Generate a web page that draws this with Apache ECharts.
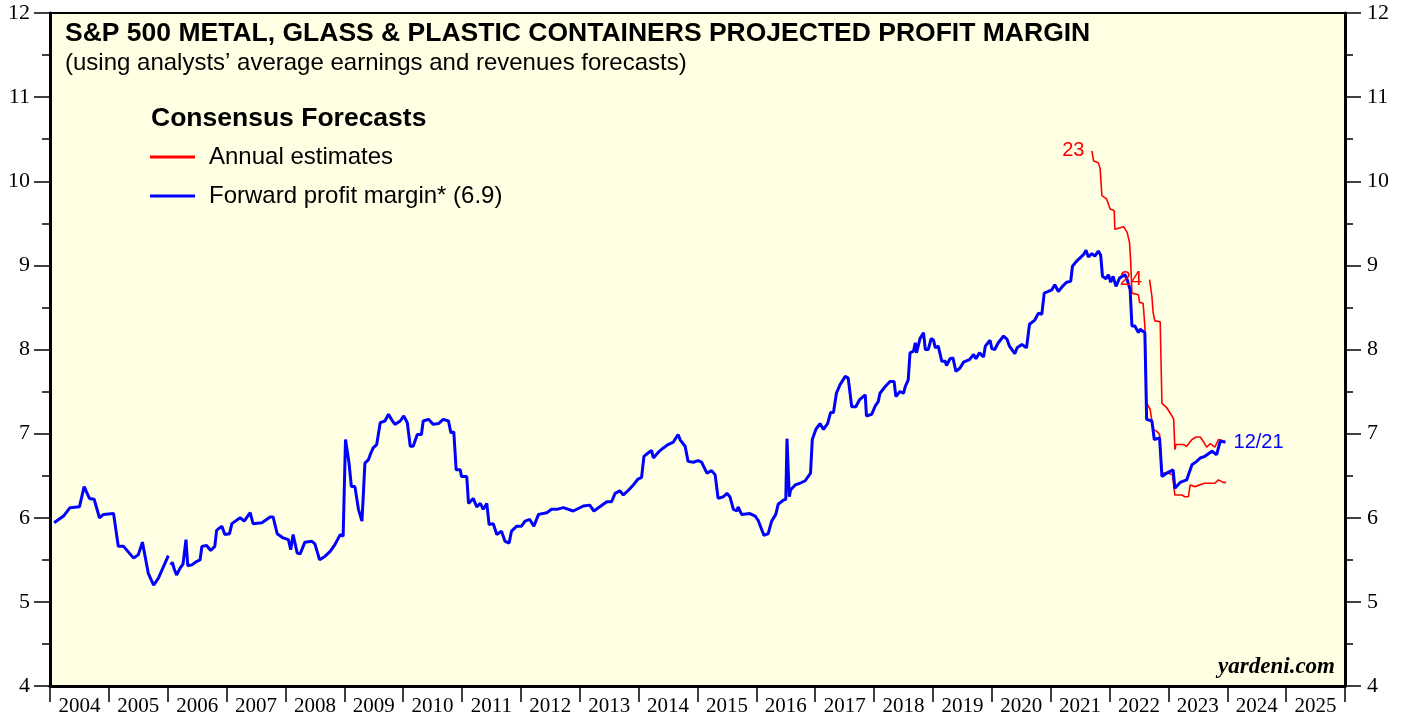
<!DOCTYPE html>
<html>
<head>
<meta charset="utf-8">
<script src="https://cdn.jsdelivr.net/npm/echarts@6/dist/echarts.min.js"></script>
<style>
  html, body { margin: 0; padding: 0; background: #fff; }
  #chart { width: 1405px; height: 717px; }
</style>
</head>
<body>
<div id="chart"></div>
<script>
// x positions are decimal years, values are profit margin in percent
const yearLabels = ["2004", "2005", "2006", "2007", "2008", "2009", "2010", "2011", "2012", "2013", "2014",
    "2015", "2016", "2017", "2018", "2019", "2020", "2021", "2022", "2023", "2024", "2025"];

const fwdDates = [
    2004.07, 2004.23, 2004.34, 2004.50, 2004.58, 2004.67, 2004.75, 2004.84, 2004.91, 2005.08,
    2005.16, 2005.25, 2005.42, 2005.50, 2005.57, 2005.67, 2005.76, 2005.84, 2006.01, 2006.03,
    2006.05, 2006.08, 2006.11, 2006.15, 2006.21, 2006.26, 2006.29, 2006.31, 2006.34, 2006.41,
    2006.49, 2006.55, 2006.58, 2006.66, 2006.73, 2006.80, 2006.83, 2006.92, 2006.97, 2007.05,
    2007.09, 2007.23, 2007.30, 2007.40, 2007.45, 2007.60, 2007.74, 2007.79, 2007.86, 2007.96,
    2008.05, 2008.09, 2008.13, 2008.20, 2008.25, 2008.33, 2008.45, 2008.50, 2008.58, 2008.67,
    2008.76, 2008.84, 2008.93, 2008.98, 2009.00, 2009.02, 2009.08, 2009.12, 2009.18, 2009.24,
    2009.30, 2009.35, 2009.41, 2009.44, 2009.49, 2009.55, 2009.61, 2009.69, 2009.75, 2009.80,
    2009.86, 2009.95, 2010.01, 2010.07, 2010.12, 2010.17, 2010.24, 2010.31, 2010.34, 2010.43,
    2010.51, 2010.60, 2010.68, 2010.77, 2010.81, 2010.86, 2010.90, 2010.97, 2010.99, 2011.08,
    2011.11, 2011.19, 2011.25, 2011.31, 2011.36, 2011.42, 2011.46, 2011.53, 2011.59, 2011.67,
    2011.73, 2011.80, 2011.84, 2011.93, 2012.01, 2012.07, 2012.15, 2012.22, 2012.30, 2012.44,
    2012.52, 2012.61, 2012.72, 2012.89, 2013.06, 2013.17, 2013.24, 2013.34, 2013.46, 2013.54,
    2013.60, 2013.68, 2013.74, 2013.83, 2013.91, 2013.99, 2014.05, 2014.09, 2014.16, 2014.22,
    2014.25, 2014.35, 2014.42, 2014.50, 2014.59, 2014.67, 2014.71, 2014.79, 2014.84, 2014.93,
    2015.01, 2015.07, 2015.16, 2015.24, 2015.30, 2015.35, 2015.44, 2015.50, 2015.55, 2015.61,
    2015.67, 2015.69, 2015.75, 2015.89, 2015.98, 2016.03, 2016.09, 2016.13, 2016.20, 2016.26,
    2016.33, 2016.37, 2016.46, 2016.50, 2016.52, 2016.56, 2016.58, 2016.66, 2016.74, 2016.83,
    2016.92, 2016.95, 2017.01, 2017.08, 2017.14, 2017.21, 2017.26, 2017.31, 2017.36, 2017.42,
    2017.51, 2017.56, 2017.62, 2017.69, 2017.75, 2017.85, 2017.87, 2017.96, 2018.02, 2018.07,
    2018.10, 2018.19, 2018.27, 2018.34, 2018.37, 2018.44, 2018.50, 2018.53, 2018.58, 2018.61,
    2018.67, 2018.70, 2018.72, 2018.78, 2018.84, 2018.87, 2018.92, 2018.97, 2019.01, 2019.04,
    2019.09, 2019.15, 2019.21, 2019.23, 2019.29, 2019.34, 2019.39, 2019.46, 2019.52, 2019.62,
    2019.69, 2019.73, 2019.79, 2019.86, 2019.89, 2019.97, 2020.00, 2020.05, 2020.11, 2020.20,
    2020.26, 2020.30, 2020.39, 2020.43, 2020.51, 2020.59, 2020.64, 2020.73, 2020.79, 2020.85,
    2020.89, 2020.96, 2021.02, 2021.07, 2021.13, 2021.20, 2021.27, 2021.34, 2021.37, 2021.44,
    2021.50, 2021.56, 2021.60, 2021.64, 2021.70, 2021.75, 2021.81, 2021.85, 2021.88, 2021.94,
    2021.98, 2022.02, 2022.06, 2022.11, 2022.17, 2022.26, 2022.30, 2022.35, 2022.38, 2022.43,
    2022.49, 2022.52, 2022.60, 2022.63, 2022.72, 2022.76, 2022.85, 2022.89, 2022.97, 2023.08,
    2023.11, 2023.20, 2023.31, 2023.40, 2023.48, 2023.54, 2023.62, 2023.74, 2023.82, 2023.88,
    2023.97
];
const fwdMargin = [
    5.94, 6.02, 6.12, 6.13, 6.37, 6.23, 6.22, 6.00, 6.04, 6.05,
    5.66, 5.66, 5.52, 5.56, 5.71, 5.34, 5.20, 5.28, 5.55, null,
    5.44, 5.47, 5.39, 5.32, 5.40, 5.45, 5.44, 5.74, 5.43, 5.44,
    5.48, 5.50, 5.66, 5.67, 5.61, 5.66, 5.85, 5.90, 5.80, 5.81,
    5.93, 6.00, 5.96, 6.06, 5.93, 5.94, 6.01, 6.01, 5.81, 5.76,
    5.74, 5.62, 5.80, 5.58, 5.57, 5.71, 5.72, 5.69, 5.50, 5.54,
    5.60, 5.68, 5.80, 5.78, 5.80, 6.93, 6.65, 6.37, 6.37, 6.10,
    5.96, 6.65, 6.69, 6.75, 6.83, 6.87, 7.13, 7.15, 7.23, 7.17,
    7.11, 7.15, 7.21, 7.13, 6.85, 6.85, 6.99, 6.99, 7.15, 7.17,
    7.11, 7.12, 7.17, 7.15, 7.01, 7.02, 6.57, 6.57, 6.49, 6.49,
    6.17, 6.23, 6.13, 6.17, 6.10, 6.17, 5.92, 5.93, 5.80, 5.84,
    5.72, 5.70, 5.84, 5.90, 5.90, 5.96, 5.98, 5.90, 6.04, 6.06,
    6.10, 6.10, 6.12, 6.08, 6.14, 6.15, 6.08, 6.13, 6.19, 6.19,
    6.29, 6.32, 6.27, 6.33, 6.39, 6.46, 6.48, 6.73, 6.77, 6.80,
    6.71, 6.79, 6.83, 6.87, 6.90, 6.99, 6.92, 6.85, 6.67, 6.66,
    6.68, 6.66, 6.53, 6.56, 6.51, 6.23, 6.25, 6.29, 6.25, 6.10,
    6.08, 6.13, 6.04, 6.05, 6.02, 5.97, 5.86, 5.79, 5.81, 5.96,
    6.04, 6.16, 6.21, 6.22, 6.94, 6.25, 6.33, 6.39, 6.41, 6.44,
    6.53, 6.93, 7.05, 7.12, 7.05, 7.12, 7.25, 7.25, 7.48, 7.58,
    7.68, 7.66, 7.32, 7.32, 7.40, 7.46, 7.21, 7.23, 7.33, 7.38,
    7.48, 7.56, 7.62, 7.62, 7.44, 7.50, 7.48, 7.56, 7.64, 7.96,
    7.98, 8.08, 7.96, 8.13, 8.20, 8.00, 8.00, 8.13, 8.11, 8.02,
    8.04, 7.86, 7.86, 7.81, 7.89, 7.90, 7.74, 7.78, 7.85, 7.88,
    7.94, 7.89, 7.96, 7.91, 8.04, 8.11, 8.01, 8.00, 8.08, 8.16,
    8.12, 8.04, 7.95, 8.02, 8.06, 8.02, 8.30, 8.35, 8.43, 8.42,
    8.67, 8.69, 8.71, 8.77, 8.69, 8.75, 8.80, 8.81, 8.99, 9.05,
    9.09, 9.13, 9.18, 9.10, 9.14, 9.11, 9.17, 9.12, 8.87, 8.84,
    8.89, 8.80, 8.87, 8.75, 8.85, 8.89, 8.83, 8.71, 8.28, 8.28,
    8.20, 8.24, 8.20, 7.17, 7.15, 6.93, 6.95, 6.49, 6.53, 6.57,
    6.35, 6.42, 6.45, 6.63, 6.67, 6.71, 6.73, 6.79, 6.75, 6.91,
    6.90
];

const est23Dates = [
    2021.70, 2021.73, 2021.81, 2021.84, 2021.87, 2021.95, 2022.01, 2022.08, 2022.09, 2022.24,
    2022.30, 2022.34, 2022.36, 2022.38, 2022.49, 2022.51, 2022.57, 2022.60, 2022.63, 2022.69,
    2022.74, 2022.80, 2022.85, 2022.89, 2023.00, 2023.07, 2023.11, 2023.23, 2023.28, 2023.34,
    2023.37, 2023.45, 2023.61, 2023.79, 2023.85, 2023.88, 2023.93, 2023.98
];
const est23Values = [
    10.36, 10.24, 10.22, 10.15, 9.83, 9.79, 9.67, 9.65, 9.43, 9.46,
    9.39, 9.27, 9.03, 8.67, 8.65, 8.56, 8.55, 8.28, 7.36, 7.29,
    7.05, 7.03, 6.99, 6.53, 6.53, 6.51, 6.27, 6.27, 6.25, 6.25,
    6.39, 6.37, 6.41, 6.41, 6.45, 6.46, 6.42, 6.42
];

const est24Dates = [
    2022.68, 2022.72, 2022.74, 2022.77, 2022.86, 2022.89, 2022.97, 2023.00, 2023.06, 2023.09,
    2023.11, 2023.13, 2023.25, 2023.31, 2023.40, 2023.47, 2023.54, 2023.59, 2023.65, 2023.71,
    2023.79, 2023.85, 2023.91, 2023.96
];
const est24Values = [
    8.83, 8.63, 8.44, 8.34, 8.33, 7.36, 7.31, 7.29, 7.21, 7.17,
    6.81, 6.87, 6.87, 6.85, 6.93, 6.96, 6.96, 6.91, 6.84, 6.88,
    6.84, 6.93, 6.92, 6.89
];

const sans = "Liberation Sans";
const serif = "Liberation Serif";

const pairs = (xs, ys) => xs.map((x, i) => [x, ys[i]]);

// year tag written to the left of the first point of an estimate line
const startTag = (xs, ys, text) => ({
    silent: true,
    symbol: "circle",
    symbolSize: 1,
    itemStyle: {color: "rgba(0,0,0,0)"},
    label: {show: true, position: "left", distance: 7, formatter: text,
        color: "#ff0000", fontFamily: sans, fontSize: 20},
    data: [{coord: [xs[0], ys[0]]}]
});

const myChart = echarts.init(document.getElementById("chart"));

const yAxisBase = {
    type: "value",
    min: 4,
    max: 12,
    interval: 1,
    axisLine: {show: true, lineStyle: {color: "#000", width: 3}},
    axisTick: {show: true, length: 16, lineStyle: {color: "#000", width: 1.5}},
    minorTick: {show: true, splitNumber: 2, length: 8, lineStyle: {color: "#000", width: 1.5}},
    splitLine: {show: false},
    axisLabel: {color: "#000", fontFamily: serif, fontSize: 22}
};

const option = {
    backgroundColor: "#fff",
    animation: false,
    title: [{
        text: "S&P 500 METAL, GLASS & PLASTIC CONTAINERS PROJECTED PROFIT MARGIN",
        left: 65, top: 20, padding: 0,
        textStyle: {fontFamily: sans, fontSize: 26.5, fontWeight: "bold", color: "#000"}
    }, {
        text: "(using analysts\u2019 average earnings and revenues forecasts)",
        left: 65, top: 51, padding: 0,
        textStyle: {fontFamily: sans, fontSize: 24, fontWeight: "normal", color: "#000"}
    }, {
        text: "Consensus Forecasts",
        left: 151, top: 105, padding: 0,
        textStyle: {fontFamily: sans, fontSize: 26.5, fontWeight: "bold", color: "#000"}
    }, {
        text: "yardeni.com",
        right: 70, top: 656, padding: 0,
        textStyle: {fontFamily: serif, fontSize: 23, fontWeight: "bold", fontStyle: "italic", color: "#000"}
    }],
    legend: {
        orient: "vertical",
        left: 150,
        top: 145,
        padding: 0,
        itemWidth: 45,
        itemHeight: 3,
        itemGap: 15,
        data: [
            {name: "Annual estimates", icon: "rect"},
            {name: "Forward profit margin* (6.9)", icon: "rect"}
        ],
        textStyle: {fontFamily: sans, fontSize: 24, color: "#000", padding: [0, 0, 0, 9]}
    },
    grid: {
        left: 50,
        right: 60,
        top: 13,
        bottom: 31,
        show: true,
        backgroundColor: "#ffffe3",
        borderColor: "#000",
        borderWidth: 2
    },
    xAxis: [{
        type: "value",
        min: 2004,
        max: 2026,
        show: false
    }, {
        type: "category",
        data: yearLabels,
        position: "bottom",
        boundaryGap: true,
        axisLine: {show: true, lineStyle: {color: "#000", width: 3}},
        axisTick: {show: true, interval: 0, length: 16, lineStyle: {color: "#000", width: 1.5}},
        axisLabel: {interval: 0, color: "#000", fontFamily: serif, fontSize: 21, margin: 10},
        splitLine: {show: false}
    }],
    yAxis: [
        Object.assign({}, yAxisBase, {position: "left", axisLabel: Object.assign({}, yAxisBase.axisLabel, {margin: 20})}),
        Object.assign({}, yAxisBase, {position: "right", axisLabel: Object.assign({}, yAxisBase.axisLabel, {margin: 22})})
    ],
    series: [{
        name: "Annual estimates",
        type: "line",
        xAxisIndex: 0,
        yAxisIndex: 0,
        showSymbol: false,
        symbol: "none",
        color: "#ff0000",
        lineStyle: {color: "#ff0000", width: 1.6},
        data: pairs(est23Dates, est23Values),
        markPoint: startTag(est23Dates, est23Values, "23"),
        z: 2
    }, {
        name: "Annual estimates",
        type: "line",
        xAxisIndex: 0,
        yAxisIndex: 0,
        showSymbol: false,
        symbol: "none",
        color: "#ff0000",
        lineStyle: {color: "#ff0000", width: 1.6},
        data: pairs(est24Dates, est24Values),
        markPoint: startTag(est24Dates, est24Values, "24"),
        z: 2
    }, {
        name: "Forward profit margin* (6.9)",
        type: "line",
        xAxisIndex: 0,
        yAxisIndex: 0,
        showSymbol: false,
        symbol: "none",
        connectNulls: false,
        color: "#0000ff",
        lineStyle: {color: "#0000ff", width: 3},
        data: pairs(fwdDates, fwdMargin),
        endLabel: {
            show: true,
            formatter: "12/21",
            distance: 8,
            color: "#0000ff",
            fontFamily: sans,
            fontSize: 20
        },
        z: 3
    }]
};

option && myChart.setOption(option);
</script>
</body>
</html>
